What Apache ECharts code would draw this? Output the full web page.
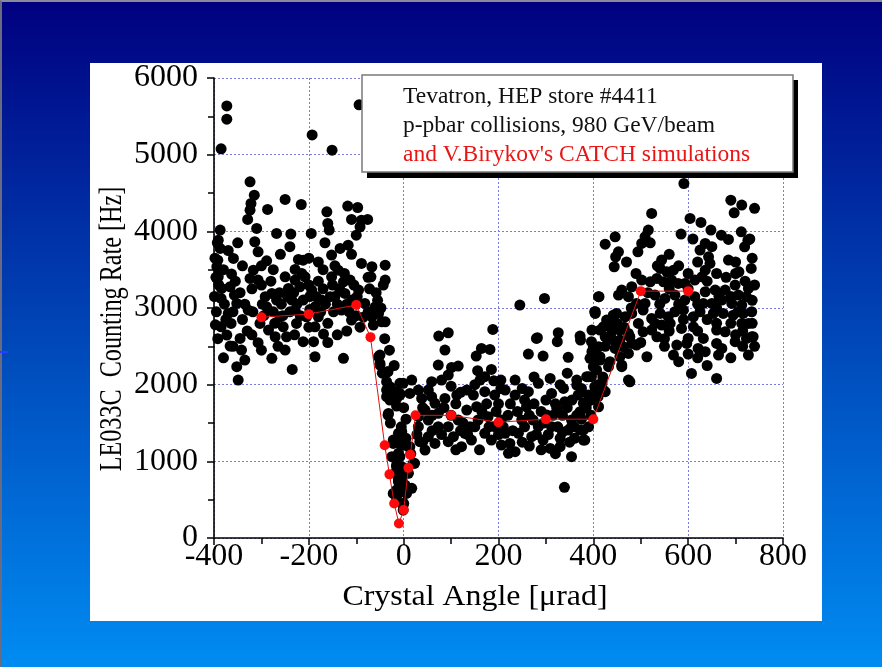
<!DOCTYPE html>
<html><head><meta charset="utf-8">
<script src="https://cdn.jsdelivr.net/npm/echarts@6/dist/echarts.min.js"></script>
<style>
html,body{margin:0;padding:0;width:882px;height:667px;overflow:hidden;}
body{background:linear-gradient(to bottom,#000080 0%,#0046b8 50%,#008cf2 100%);position:relative;}
#edge{position:absolute;left:0;top:0;width:880px;height:665px;border-top:2px solid #8a8a9a;border-left:2px solid #6a6a80;}
#dash{position:absolute;left:0;top:351px;width:8px;height:2px;background:#2a3cff;}
#panel{position:absolute;left:90px;top:63px;width:732px;height:558px;background:#fff;}
#chart{position:absolute;left:0;top:0;width:882px;height:667px;}
</style></head>
<body>
<div id="edge"></div><div id="dash"></div><div id="panel"></div>
<div id="chart"></div>
<script>
// ---- measured counting rates (x: crystal angle µrad, y: rate Hz) ----
const outliers = [[-373,5636],[-373,5463],[-385,5076],[-193,5258],[-151,5059],[-94,5650],[591,4624]];
const leftCluster = [[-324,4646],[-315,4472],[-322,4363],[-324,4276],[-329,4155],[-310,4038],[-250,4416],[-287,4285],[-216,4350],[-268,3972],[-238,3964],[-195,3972],[-387,4016],[-391,3885],[-387,3777],[-314,3864],[-307,3733],[-289,3616],[-359,3646],[-392,3624],[-394,3538],[-222,3633],[-212,3624],[-229,3503],[-162,4255],[-160,4103],[-157,4016],[-166,3851],[-152,3690],[-134,3777],[-117,3820],[-118,4329],[-97,4311],[-110,4155],[-89,4146],[-76,4155],[-92,4059],[-89,3581],[-67,3538],[-39,3559],[-69,3407],[-43,3299],[-317,3494],[-324,3386],[-307,3364],[-363,3442],[-366,3277],[-391,3407],[-384,3255],[-385,3125],[-357,3168],[-352,3060],[-328,2973],[-370,2929],[-364,2799],[-385,2755],[-373,2647],[-366,2503],[-345,2603],[-342,2451],[-335,2321],[-352,2234],[-349,2060],[-292,3147],[-278,3190],[-268,3103],[-289,3016],[-303,2799],[-285,2712],[-307,2547],[-271,2625],[-254,2755],[-247,2625],[-250,2451],[-278,2343],[-235,2199],[-261,2886],[-250,3407],[-229,3364],[-208,3407],[-243,3255],[-219,3277],[-194,3234],[-236,3103],[-212,3103],[-187,3016],[-173,3103],[-155,3147],[-229,2973],[-205,2886],[-180,2886],[-226,2799],[-187,2755],[-169,2660],[-212,2560],[-190,2560],[-187,2364],[-127,2343],[-152,3407],[-138,3494],[-127,3342],[-113,3364],[-124,3190],[-95,3234],[-110,3103],[-131,2973],[-110,2842],[-82,3060],[-60,3016],[-53,2929],[-46,2820],[-67,2886],[-64,2777],[-39,2820],[-53,2364],[-50,2256],[-34,2169],[-29,1973],[-8,2017],[-11,1886],[-39,3364],
[-398,3650],[-396,3400],[-399,3150],[-395,2950],[-397,2780],[-393,3850],[-390,3300],[-392,2600],[-380,3500],[-378,3050],[-375,2850],[-360,2950],[-355,3350],[-345,3200],[-340,2850],[-335,3050],[-330,2700],[-320,3250],[-318,2950],[-300,3300],[-298,3050],[-295,2900],[-280,3350],[-275,2950],[-272,2800],[-262,3200],[-258,3050],[-255,2900],[-245,3150],[-240,2950],[-232,3200],[-225,3050],[-218,2900],[-215,3450],[-200,3300],[-198,3150],[-198,2980],[-185,3150],[-180,3350],[-175,2950],[-170,3250],[-165,3050],[-160,2800],[-150,3300],[-148,2950],[-145,3150],[-140,3050],[-135,3250],[-125,3450],[-120,3050],[-115,2950],[-105,3300],[-100,2900],[-98,3150],[-92,2750],[-85,2880],[-75,2950],[-72,3250],[-58,3200],[-55,3100],[-48,3000],[-370,3750],[-350,3850],[-340,3550],[-300,3550],[-275,3500],[-260,3700],[-240,3800],[-200,3650],[-180,3600],[-170,3500],[-145,3550],[-110,3700],[-100,3950],[-75,3400],[-380,2350],[-360,2500],[-320,2650],[-300,2450],[-265,2500],[-230,2650],[-200,2750],[-160,2550],[-140,2650],[-120,2700]];
const dipRegion = [[-36,2038],[-36,1930],[-8,1864],[-36,1843],[-15,1721],[-32,1625],[-11,1365],[-22,1234],[-8,1234],[-25,1060],[-15,930],[-11,756],[-15,626],[-1,365],[-50,2277],[-50,2386],[-33,2169],[-29,1951],[-15,1821],[-18,1908],[-29,1799],[-33,1604],[-9,1365],[-22,1278],[-1,1213],[-8,1060],[10,1191],[23,974],[-15,952],[-4,887],[-18,843],[10,843],[-11,734],[17,648],[-8,626],[6,582],[-22,582],[0,452],[-15,495],[-4,1387],[13,1191],[-11,1104],[-4,930],[20,974],[-4,756],[-11,582],[3,691],[-1,430],[-1,2017],[-8,1886],[13,1886],[-40,2600],[-30,2450],[-45,2150],[-20,2250],[5,1550],[0,1700],[-5,1450],[5,1300],[-28,1500],[15,1100]];
const middleBand = [[245,3038],[297,3125],[188,2721],[74,2634],[94,2677],[87,2451],[326,2677],[324,2560],[282,2612],[372,2634],[373,2582],[263,2399],[294,2373],[347,2356],[164,2473],[182,2460],[153,2373],[73,2256],[101,2225],[115,2243],[156,2182],[185,2199],[171,2104],[205,2060],[161,2060],[94,2126],[80,2060],[59,2039],[17,2060],[31,1930],[52,1930],[38,1821],[59,1843],[87,1821],[112,1865],[133,1930],[147,1865],[171,1908],[192,1865],[214,1930],[235,1865],[235,2060],[263,1908],[284,2017],[309,2082],[312,1886],[337,1951],[340,1778],[365,2060],[368,1865],[389,1865],[403,1973],[410,1843],[379,1756],[372,1647],[354,1539],[347,1408],[372,1408],[382,1278],[323,1691],[302,1604],[312,1452],[284,1452],[273,1539],[259,1712],[249,1539],[270,1321],[294,1278],[309,1169],[330,1191],[354,1061],[339,661],[242,1365],[224,1234],[214,1365],[206,1539],[192,1452],[178,1582],[171,1365],[185,1278],[221,1104],[235,1126],[206,1213],[157,1539],[140,1452],[143,1278],[122,1191],[129,1365],[105,1321],[94,1256],[115,1539],[94,1452],[73,1452],[52,1539],[52,1321],[66,1234],[45,1148],[34,1256],[31,1452],[31,1582],[73,1626],[133,1669],[154,1712],[66,1756],[45,1669],
[40,1700],[60,1600],[85,1700],[100,1600],[110,1750],[125,1500],[120,1400],[135,1350],[150,1450],[165,1650],[175,1750],[180,1450],[195,1650],[200,1750],[210,1450],[220,1600],[225,1750],[230,1400],[240,1650],[255,1800],[255,1450],[265,1600],[275,1750],[280,1350],[290,1650],[295,1500],[300,1800],[305,1350],[315,1600],[320,1750],[325,1450],[330,1300],[335,1600],[345,1700],[350,1250],[355,1800],[360,1450],[365,1600],[375,1550],[385,1700],[390,1450],[395,1600],[28,1350],[40,1250],[60,1400],[80,1350],[110,1150],[160,1150],[200,1350],[250,1250],[265,1200],[290,1150],[320,1100],[335,1380],[360,1300],[120,1900],[150,2000],[205,1950],[250,1950],[275,2100],[330,2000],[345,2150],[375,1950],[100,1980],[190,2050]];
const riseRegion = [[280,2603],[404,2951],[428,2842],[442,2907],[414,2712],[396,2560],[407,2473],[393,2343],[414,2321],[407,2190],[432,2234],[421,1930],[411,1712],[435,2625],[456,2582],[477,2625],[491,2516],[474,2408],[460,2256],[477,2038],[456,2364],[446,2473],[365,1995],[386,2104],[386,1756],[372,1625],[379,1408],[354,1452],[379,1278],[396,2104],[412,3147],[403,2951],[400,2495],[407,2321],[410,2000],[395,1800],[420,2100],[405,2400],[425,2500],[440,2700],[450,2800],[465,2750]];
const rightCluster = [[523,4233],[604,4168],[627,4116],[648,4016],[585,3964],[690,4407],[697,4242],[713,4342],[712,3994],[726,3885],[685,3894],[719,3798],[733,3516],[707,3472],[685,3625],[446,3929],[425,3833],[453,3733],[447,3668],[444,3538],[516,4016],[509,3929],[502,3842],[494,3733],[544,3625],[541,3516],[569,3494],[555,3472],[636,3842],[625,3755],[643,3668],[646,3581],[636,3494],[629,3407],[614,3364],[593,3321],[579,3321],[565,3364],[548,3342],[534,3386],[520,3342],[502,3364],[481,3277],[460,3234],[453,3168],[411,3147],[474,3147],[491,3060],[509,3060],[530,3168],[551,3125],[572,3168],[593,3103],[614,3147],[636,3212],[657,3234],[678,3234],[699,3299],[727,3255],[723,3147],[706,3168],[671,3103],[650,3060],[692,3060],[713,3038],[734,2951],[716,2929],[695,2907],[674,2929],[653,2929],[632,3060],[625,2951],[611,2886],[590,2973],[572,2951],[558,2886],[541,2929],[523,2864],[505,2973],[495,2799],[481,2929],[467,2886],[449,2929],[439,2799],[421,2755],[404,2929],[397,2712],[456,2712],[474,2668],[481,2538],[463,2495],[442,2582],[425,2625],[411,2495],[397,2430],[414,2364],[435,2299],[460,2234],[474,2060],[513,2364],[534,2625],[569,2386],[576,2517],[600,2603],[597,2538],[621,2473],[636,2430],[632,2603],[660,2712],[678,2690],[660,2538],[671,2473],[664,2386],[699,2560],[713,2799],[727,2799],[734,2625],[723,2603],[727,2386],[607,2147],[660,2082],[586,2734],[611,2755],[562,2799],[544,2777],[523,2712],[505,2690],[400,2234],[390,2104],[418,2017],[404,1930],[425,1908],
[515,3200],[540,3050],[560,3250],[580,3050],[600,3250],[620,3050],[640,3350],[660,3000],[665,3150],[680,3400],[690,3150],[700,3450],[705,2950],[720,3350],[735,3100],[740,3300],[530,2800],[560,2700],[590,2850],[620,2700],[640,2850],[660,2800],[690,2800],[700,2650],[715,2700],[735,2800],[580,3550],[600,3450],[620,3600],[560,3700],[535,3550],[520,3850],[660,3450],[700,3600],[735,3650],[650,3800],[490,3450],[470,3600],[480,3000],[500,2550],[550,2500],[580,2300],[640,2250],[690,2350],[715,2500],[740,2500],[620,2350],[600,2400],[550,2600],[737,2625],[730,3900],[740,4300],[670,3950],[610,3900]];
// ---- CATCH simulation ----
const simX = [-300,-200,-100,-70,-40,-30,-20,-10,0,10,14,25,100,200,300,400,500,600];
const simY = [2880,2920,3040,2620,1210,830,450,190,365,915,1085,1600,1600,1510,1550,1550,3220,3220];
// ---- axis ticks & texts ----
const xTicks = [-400,-200,0,200,400,600,800];
const yTicks = [0,1000,2000,3000,4000,5000,6000];
const xTitle = 'Crystal Angle [μrad]';
const yTitle = 'LE033C  Counting Rate [Hz]';
const legendLines = ['Tevatron, HEP store #4411','p-pbar collisions, 980 GeV/beam',"and V.Birykov's CATCH simulations"];

const measured = [].concat(outliers,leftCluster,dipRegion,middleBand,riseRegion,rightCluster);
const sim = simX.map((x,i)=>[x,simY[i]]);
const serif = 'Liberation Serif';
const chart = echarts.init(document.getElementById('chart'));
const axisCommon = {
  type:'value',
  axisLine:{show:true,onZero:false,lineStyle:{color:'#000',width:1.6}},
  axisTick:{show:true,inside:false,length:7,lineStyle:{color:'#000',width:1.5}},
  minorTick:{show:true,splitNumber:2,length:6,lineStyle:{color:'#000',width:1.5}},
  splitLine:{show:true,lineStyle:{type:[2,2],color:'#7b7bd8',width:1}},
  axisLabel:{color:'#000',fontFamily:serif,fontSize:32,formatter:v=>String(v)}
};
chart.setOption({
  animation:false,
  backgroundColor:'transparent',
  grid:{left:214,right:99,top:78,bottom:129},
  xAxis:Object.assign({},axisCommon,{min:xTicks[0],max:xTicks[xTicks.length-1],interval:200,
    axisLabel:Object.assign({},axisCommon.axisLabel,{margin:3})}),
  yAxis:Object.assign({},axisCommon,{min:yTicks[0],max:yTicks[yTicks.length-1],interval:1000,
    axisLabel:Object.assign({},axisCommon.axisLabel,{margin:16,padding:[10,0,0,0]})}),
  series:[
    {type:'scatter',data:measured,symbol:'circle',symbolSize:11,itemStyle:{color:'#000',opacity:1},z:2},
    {type:'line',data:sim,symbol:'circle',symbolSize:10,showSymbol:true,
     lineStyle:{color:'#e01010',width:1},itemStyle:{color:'#ff0a0a'},z:3}
  ],
  graphic:[
    {type:'text',x:475,y:597,scaleX:1.1,style:{text:xTitle,fill:'#000',font:'29px "Liberation Serif"',align:'center',verticalAlign:'middle'}},
    {type:'text',x:113,y:329,rotation:Math.PI/2,scaleX:0.78,style:{text:yTitle,fill:'#000',font:'31px "Liberation Serif"',align:'center',verticalAlign:'middle'}},
    {type:'rect',shape:{x:367,y:80,width:431,height:98},style:{fill:'#000'},z:100},
    {type:'rect',shape:{x:362,y:75,width:431,height:97},style:{fill:'#fff',stroke:'#7a7a7a',lineWidth:1.5},z:101},
    {type:'text',x:403,y:85,style:{text:legendLines[0],fill:'#111',font:'23.5px "Liberation Serif"'},z:102},
    {type:'text',x:403,y:114,style:{text:legendLines[1],fill:'#111',font:'23.5px "Liberation Serif"'},z:102},
    {type:'text',x:403,y:143,style:{text:legendLines[2],fill:'#e81515',font:'23.5px "Liberation Serif"'},z:102}
  ]
});
</script>
</body></html>
